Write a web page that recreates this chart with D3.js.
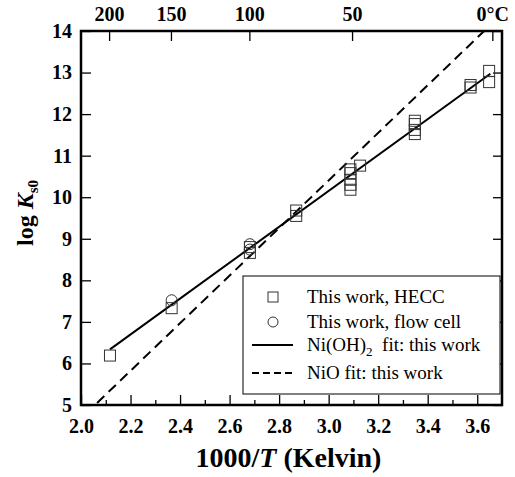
<!DOCTYPE html>
<html>
<head>
<meta charset="utf-8">
<script src="https://cdn.jsdelivr.net/npm/d3@7"></script>
<style>
  body { margin: 0; background: #fff; }
</style>
</head>
<body>
<div id="chart"></div>
<script>
var serifFont = "Liberation Serif";

// bottom axis ticks (1000/T) and top axis temperatures (deg C)
var xTicks     = [2.0, 2.2, 2.4, 2.6, 2.8, 3.0, 3.2, 3.4, 3.6];
var xMinor     = [2.1, 2.3, 2.5, 2.7, 2.9, 3.1, 3.3, 3.5];
var yTicks     = [5, 6, 7, 8, 9, 10, 11, 12, 13, 14];
var tempC      = [200, 150, 100, 50, 0];
var tempLabels = ["200", "150", "100", "50", "0°C"];

// This work, HECC  [1000/T, log Ks0]
var heccX = [2.117, 2.366, 2.682, 2.682, 2.869, 2.869, 3.088, 3.088, 3.088, 3.088, 3.088, 3.127,
             3.348, 3.348, 3.348, 3.348, 3.573, 3.573, 3.648, 3.648];
var heccY = [6.19, 7.33, 8.80, 8.66, 9.68, 9.55, 10.67, 10.58, 10.42, 10.30, 10.18, 10.76,
             11.84, 11.76, 11.62, 11.52, 12.64, 12.70, 13.04, 12.77];

// This work, flow cell
var flowX = [2.366, 2.682, 2.682];
var flowY = [7.52, 8.87, 8.74];

// fit lines (end points)
var niohFitX = [2.117, 3.653];
var niohFitY = [6.34, 12.97];
var nioFitX  = [2.065, 3.628];
var nioFitY  = [5.05, 14.0];

var legendLabels = ["This work, HECC", "This work, flow cell", "Ni(OH)", "NiO fit: this work"];

var W = 515, H = 477;
var margin = {top: 31, right: 13, bottom: 72, left: 81};
var width  = W - margin.left - margin.right,
    height = H - margin.top - margin.bottom;

var xScale = d3.scaleLinear().domain([2.0, 3.7]).range([0, width]);
var yScale = d3.scaleLinear().domain([5, 14]).range([height, 0]);

var svg = d3.select("#chart").append("svg")
    .attr("width", W)
    .attr("height", H)
    .attr("font-family", serifFont);

var g = svg.append("g")
    .attr("transform", "translate(" + margin.left + "," + margin.top + ")");

// ---- axes (ticks point inward) ----
var xAxis = d3.axisBottom(xScale).tickValues(xTicks)
    .tickSize(-10).tickPadding(14).tickFormat(d3.format(".1f"));
var xAxisEl = g.append("g")
    .attr("transform", "translate(0," + height + ")")
    .call(xAxis);

var xMinorEl = g.append("g")
    .attr("transform", "translate(0," + height + ")")
    .call(d3.axisBottom(xScale).tickValues(xMinor).tickSize(-5).tickFormat(""));

var yAxisEl = g.append("g")
    .call(d3.axisLeft(yScale).tickValues(yTicks).tickSize(-10).tickPadding(9).tickFormat(d3.format("d")));

var yRightEl = g.append("g")
    .attr("transform", "translate(" + width + ",0)")
    .call(d3.axisRight(yScale).tickValues(yTicks).tickSize(-9).tickFormat(""));

// top axis in degrees C
var topAxis = d3.axisTop(xScale)
    .tickValues(tempC.map(function (t) { return 1000 / (t + 273.15); }))
    .tickSize(-10).tickPadding(10)
    .tickFormat(function (d, i) { return tempLabels[i]; });
var topAxisEl = g.append("g").call(topAxis);

[xAxisEl, xMinorEl, yAxisEl, yRightEl, topAxisEl].forEach(function (a) {
  a.attr("font-family", serifFont).attr("font-size", 20).attr("font-weight", "bold");
  a.select(".domain").remove();
  a.selectAll(".tick line").attr("stroke", "#000").attr("stroke-width", 1.3);
  a.selectAll(".tick text").attr("fill", "#000");
});

// ---- fit lines ----
var line = d3.line()
    .x(function (d) { return xScale(d[0]); })
    .y(function (d) { return yScale(d[1]); });

g.append("path")
    .datum(nioFitX.map(function (x, i) { return [x, nioFitY[i]]; }))
    .attr("d", line)
    .attr("fill", "none")
    .attr("stroke", "#000")
    .attr("stroke-width", 2)
    .attr("stroke-dasharray", "10,6");

g.append("path")
    .datum(niohFitX.map(function (x, i) { return [x, niohFitY[i]]; }))
    .attr("d", line)
    .attr("fill", "none")
    .attr("stroke", "#000")
    .attr("stroke-width", 2);

// ---- points ----
var sq = 11;
g.append("g").selectAll("rect")
    .data(heccX.map(function (x, i) { return [x, heccY[i]]; }))
    .enter().append("rect")
    .attr("x", function (d) { return xScale(d[0]) - sq / 2; })
    .attr("y", function (d) { return yScale(d[1]) - sq / 2; })
    .attr("width", sq)
    .attr("height", sq)
    .attr("fill", "none")
    .attr("stroke", "#333")
    .attr("stroke-width", 1);

g.append("g").selectAll("circle")
    .data(flowX.map(function (x, i) { return [x, flowY[i]]; }))
    .enter().append("circle")
    .attr("cx", function (d) { return xScale(d[0]); })
    .attr("cy", function (d) { return yScale(d[1]); })
    .attr("r", 5.5)
    .attr("fill", "none")
    .attr("stroke", "#333")
    .attr("stroke-width", 1);

// ---- legend ----
var leg = g.append("g").attr("transform", "translate(" + (243 - margin.left) + "," + (276 - margin.top) + ")");
leg.append("rect")
    .attr("width", 257).attr("height", 118)
    .attr("fill", "#fff").attr("stroke", "#000").attr("stroke-width", 1);

var rowY = [21, 46, 69, 97], symX = 30, txtX = 64;
leg.append("rect")
    .attr("x", symX - 5).attr("y", rowY[0] - 5).attr("width", 10).attr("height", 10)
    .attr("fill", "none").attr("stroke", "#333");
leg.append("circle")
    .attr("cx", symX).attr("cy", rowY[1]).attr("r", 5)
    .attr("fill", "none").attr("stroke", "#333");
leg.append("line")
    .attr("x1", 9).attr("x2", 50).attr("y1", rowY[2]).attr("y2", rowY[2])
    .attr("stroke", "#000").attr("stroke-width", 2);
leg.append("line")
    .attr("x1", 9).attr("x2", 50).attr("y1", rowY[3]).attr("y2", rowY[3])
    .attr("stroke", "#000").attr("stroke-width", 2).attr("stroke-dasharray", "7,4");

legendLabels.forEach(function (lbl, i) {
  var t = leg.append("text")
      .attr("font-family", serifFont)
      .attr("font-size", 19)
      .attr("x", txtX).attr("y", rowY[i] + 6)
      .text(lbl);
  if (i == 2) {
    t.append("tspan").attr("dy", 5).attr("font-size", 13).text("2");
    t.append("tspan").attr("dy", -5).text("\u00a0 fit: this work");
  }
});

// ---- frame ----
g.append("rect")
    .attr("width", width).attr("height", height)
    .attr("fill", "none").attr("stroke", "#000").attr("stroke-width", 2.5);

// ---- axis titles ----
var xTitle = svg.append("text")
    .attr("x", margin.left + width / 2 - 3).attr("y", 467)
    .attr("text-anchor", "middle")
    .attr("font-family", serifFont)
    .attr("font-weight", "bold").attr("font-size", 28);
xTitle.append("tspan").text("1000/");
xTitle.append("tspan").attr("font-style", "italic").text("T");
xTitle.append("tspan").text(" (Kelvin)");

var yTitle = svg.append("text")
    .attr("transform", "translate(33,213) rotate(-90)")
    .attr("text-anchor", "middle")
    .attr("font-family", serifFont)
    .attr("font-weight", "bold").attr("font-size", 24);
yTitle.append("tspan").text("log ");
yTitle.append("tspan").attr("font-style", "italic").text("K");
yTitle.append("tspan").attr("dy", 5).attr("font-size", 15).text("s0");
</script>
</body>
</html>
